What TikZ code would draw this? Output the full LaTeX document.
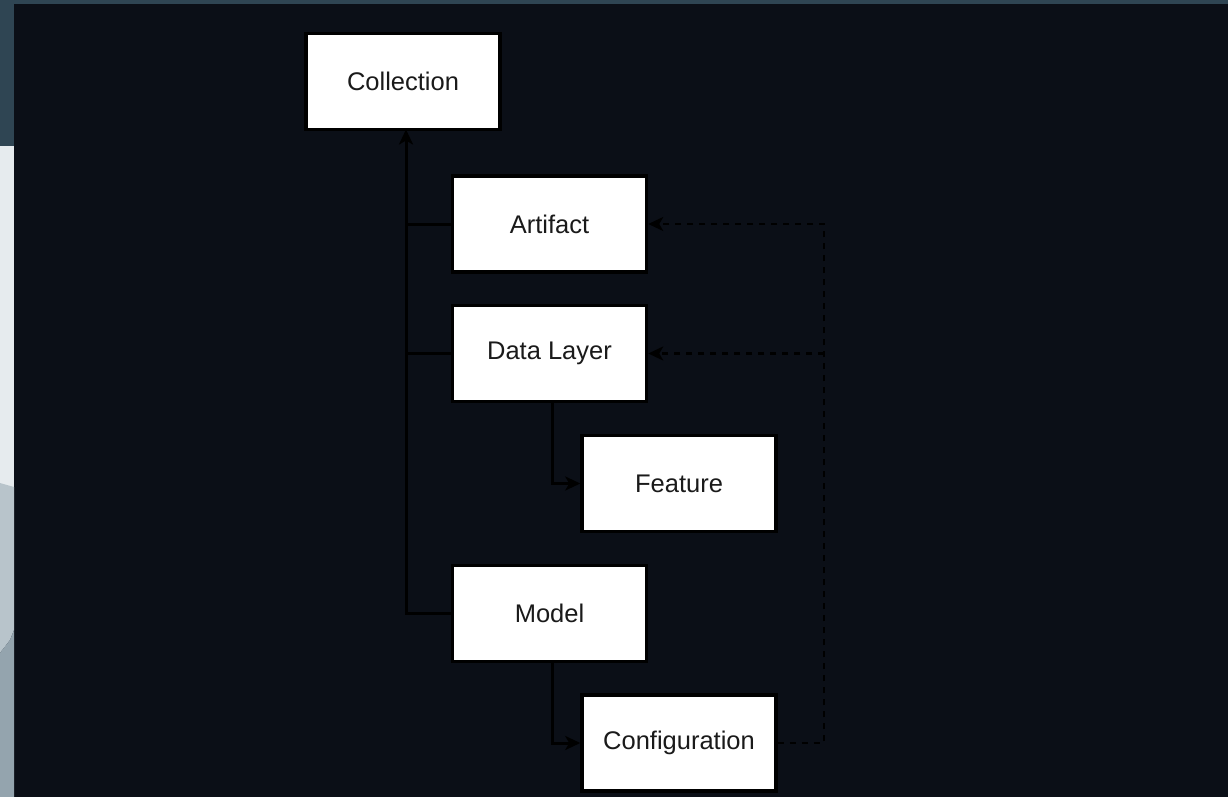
\documentclass[tikz,border=0pt]{standalone}
\usepackage{fontspec}
\setmainfont{Liberation Sans}
\usetikzlibrary{arrows.meta}
\definecolor{pagebg}{HTML}{0B0F17}
\definecolor{barbg}{HTML}{2F4553}
\definecolor{stripA}{HTML}{E6EBEE}
\definecolor{stripB}{HTML}{B8C4CB}
\definecolor{stripC}{HTML}{94A4AE}
\definecolor{labelc}{HTML}{1A1A1A}
\tikzset{
  box/.style={draw=black, line width=3.5pt, fill=white, rectangle,
    minimum width=194pt, minimum height=96pt, inner sep=0pt,
    text=labelc, font=\fontsize{25.5}{30}\selectfont},
  conn/.style={draw=black, line width=3pt},
  dashconn/.style={draw=black, line width=2.2pt, dash pattern=on 6pt off 6pt},
  tip/.style={-{Stealth[length=15pt,width=14pt,inset=4pt]}},
}
\begin{document}
\begin{tikzpicture}[x=1pt,y=-1pt]
  \useasboundingbox (0,0) rectangle (1228,797);
  % page background and window chrome
  \fill[pagebg] (0,0) rectangle (1228,797);
  \fill[barbg] (0,0) rectangle (1228,4);
  \fill[barbg] (0,0) rectangle (14,146);
  \fill[stripA] (0,146) rectangle (14,490);
  \fill[stripB] (0,483) -- (14,487) -- (14,630) -- (10,640) -- (0,653) -- cycle;
  \fill[stripC] (0,653) -- (10,640) -- (14,630) -- (14,797) -- (0,797) -- cycle;

  % entity boxes
  \node[box] (coll) at (403,81.5)  {Collection};
  \node[box] (art)  at (549.5,224) {Artifact};
  \node[box] (dl)   at (549.5,353.5) {Data Layer};
  \node[box] (feat) at (679,483.5) {Feature};
  \node[box] (mod)  at (549.5,613.5) {Model};
  \node[box] (conf) at (679,743) {Configuration};

  % trunk and dashed return line positions
  \coordinate (trunk) at (406,129.5);
  \coordinate (ret) at (824,224);

  % membership in the collection
  \draw[conn,tip] (mod.west) -| (trunk);
  \draw[conn] (art.west) -- (art.west -| trunk);
  \draw[conn] (dl.west) -- (dl.west -| trunk);

  % children
  \draw[conn,tip] ([xshift=2.5pt]dl.south) |- (feat.west);
  \draw[conn,tip] ([xshift=2.5pt]mod.south) |- (conf.west);

  % configuration references
  \draw[dashconn,tip] (conf.east) -| (ret) -- (art.east);
  \draw[dashconn,tip] (dl.east -| ret) -- (dl.east);
\end{tikzpicture}
\end{document}
